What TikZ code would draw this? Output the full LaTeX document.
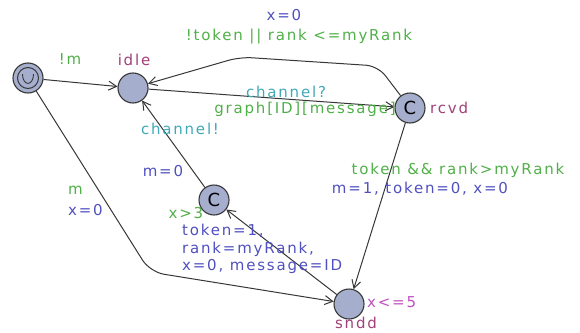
\documentclass[tikz,border=0pt]{standalone}
\usepackage{fontspec}
\setmainfont{DejaVu Sans}[LetterSpace=12]
\usetikzlibrary{arrows.meta}
\definecolor{locfill}{RGB}{166,174,206}
\definecolor{namec}{RGB}{160,64,120}
\definecolor{guardc}{RGB}{80,176,72}
\definecolor{syncc}{RGB}{64,168,184}
\definecolor{assignc}{RGB}{80,80,192}
\definecolor{invc}{RGB}{192,80,192}
\definecolor{linec}{RGB}{55,55,55}
\tikzset{
  loc/.style={circle,draw=linec,line width=1.1pt,fill=locfill,minimum size=30pt,inner sep=0pt,font=\fontsize{18}{18}\selectfont},
  trans/.style={draw=linec,line width=1pt,-{Straight Barb[length=8pt,width=9pt]}},
  lbl/.style={inner sep=0pt,font=\fontsize{15}{17}\selectfont},
  locname/.style={lbl,text=namec},
  guard/.style={lbl,text=guardc},
  sync/.style={lbl,text=syncc},
  assign/.style={lbl,text=assignc},
  inv/.style={lbl,text=invc}
}
\begin{document}
\begin{tikzpicture}[x=1pt,y=-1pt]
\useasboundingbox (0,0) rectangle (580,332);
\node[loc] (init) at (28,78) {};
\node[circle,draw=linec,line width=1pt,minimum size=21pt,inner sep=0pt] (initring) at (28,78) {};
\draw[linec,line width=0.9pt] (22.5,74) .. controls (22.5,86.5) and (33.5,86.5) .. (33.5,74);
\node[loc] (idle) at (133,88) {};
\node[loc] (rcvd) at (410,108) {C};
\node[loc] (comm) at (214,200) {C};
\node[loc] (sndd) at (349,304) {};
\node[locname] at (134,60) {idle};
\node[locname,anchor=west] at (430,108) {rcvd};
\node[locname] at (356,323) {sndd};
\node[inv,anchor=west] at (367,302) {x<=5};
% edges
\draw[trans] (init) -- (idle);
\node[guard] at (70,59) {!m};
\draw[trans] (idle) -- (rcvd);
\node[sync] at (286,92) {channel?};
\node[guard] at (305,109) {graph[ID][message]};
\coordinate (r1) at (378,66);
\coordinate (r2) at (240,57);
\draw[trans,rounded corners=12pt] (rcvd) -- (r1) -- (r2) -- (idle);
\node[assign] at (284,15) {x=0};
\node[guard] at (299,37) {!token || rank <=myRank};
\draw[trans] (rcvd) -- (sndd);
\node[guard] at (458,170) {token \&\& rank>myRank};
\node[assign] at (420,189) {m=1, token=0, x=0};
\draw[trans] (sndd) -- (comm);
\node[guard] at (186,213) {x>3};
\node[assign,anchor=west] at (182,231) {token=1,};
\node[assign,anchor=west] at (182,249) {rank=myRank,};
\node[assign,anchor=west] at (182,266) {x=0, message=ID};
\draw[trans] (comm) -- (idle);
\node[sync] at (180,129) {channel!};
\node[assign] at (163,171) {m=0};
\coordinate (s1) at (150,272);
\draw[trans,rounded corners=14pt] (init) -- (s1) -- (sndd);
\node[guard,anchor=west] at (68,190) {m};
\node[assign,anchor=west] at (68,210) {x=0};
\end{tikzpicture}
\end{document}
